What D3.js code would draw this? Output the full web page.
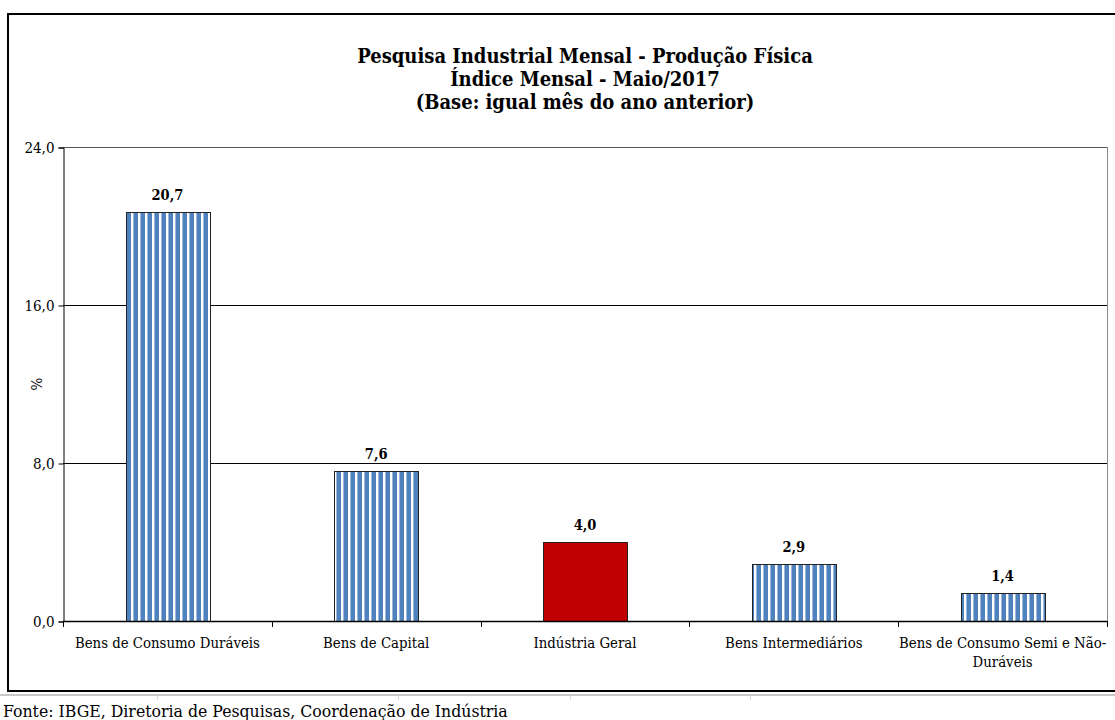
<!DOCTYPE html>
<html>
<head>
<meta charset="utf-8">
<script src="https://cdn.jsdelivr.net/npm/d3@7"></script>
<style>
  html, body { margin: 0; padding: 0; background: #fff; }
  svg { display: block; }
  text { font-family: "DejaVu Serif Condensed", "DejaVu Serif", serif; }
</style>
</head>
<body>
<svg id="chart" width="1115" height="720"></svg>
<script>
const titleLines = ["Pesquisa Industrial Mensal - Produção Física", "Índice Mensal - Maio/2017", "(Base: igual mês do ano anterior)"];
const categories = ["Bens de Consumo Duráveis", "Bens de Capital", "Indústria Geral", "Bens Intermediários", "Bens de Consumo Semi e Não-Duráveis"];
const categoryLines = [["Bens de Consumo Duráveis"], ["Bens de Capital"], ["Indústria Geral"], ["Bens Intermediários"], ["Bens de Consumo Semi e Não-", "Duráveis"]];
const values = [20.7, 7.6, 4.0, 2.9, 1.4];
const highlight = [false, false, true, false, false];
const yTicks = [0, 8, 16, 24];
const yLabel = "%";
const source = "Fonte: IBGE, Diretoria de Pesquisas, Coordenação de Indústria";

const fmt = v => v.toFixed(1).replace(".", ",");
const svg = d3.select("#chart");

// pattern
const defs = svg.append("defs");
const pat = defs.append("pattern").attr("id", "stripes").attr("patternUnits", "userSpaceOnUse")
  .attr("width", 7).attr("height", 10);
pat.append("rect").attr("width", 7).attr("height", 10).attr("fill", "#ffffff");
pat.append("rect").attr("x", 0.5).attr("width", 4.5).attr("height", 10).attr("fill", "#4f81bd");
pat.append("rect").attr("x", 0).attr("width", 1).attr("height", 10).attr("fill", "#9db8dd");

// spreadsheet remnants below the frame
svg.append("line").attr("x1", 0).attr("x2", 1115).attr("y1", 695).attr("y2", 695).attr("stroke", "#c8c8c8").attr("stroke-width", 2);
[157, 398, 570, 750].forEach(x => svg.append("line").attr("x1", x + 0.5).attr("x2", x + 0.5).attr("y1", 696).attr("y2", 700).attr("stroke", "#d8d8d8"));

// outer frame
svg.append("rect").attr("x", 8).attr("y", 14).attr("width", 1120).attr("height", 677)
  .attr("fill", "none").attr("stroke", "#000").attr("stroke-width", 2);

const m = { left: 63, right: 1107, top: 147, bottom: 621 };
const x = d3.scaleBand().domain(categories).range([m.left, m.right]).paddingInner(0.6).paddingOuter(0.3);
const xb = d3.scaleBand().domain(categories).range([m.left, m.right]);
const y = d3.scaleLinear().domain([0, 24]).range([m.bottom, m.top]);

// title
const t = svg.append("text").attr("text-anchor", "middle").attr("font-weight", "bold").attr("font-size", 20).attr("fill", "#000");
titleLines.forEach((l, i) => t.append("tspan").attr("x", 585).attr("y", 63 + i * 23).text(l));

// right plot border
svg.append("line").attr("x1", m.right + 0.5).attr("x2", m.right + 0.5).attr("y1", m.top).attr("y2", m.bottom).attr("stroke", "#888");

// gridlines
svg.append("g").selectAll("line").data(yTicks.filter(d => d > 0)).join("line")
  .attr("x1", m.left).attr("x2", m.right).attr("y1", d => Math.round(y(d)) + 0.5).attr("y2", d => Math.round(y(d)) + 0.5)
  .attr("stroke", d => d === 24 ? "#555" : "#000").attr("stroke-width", 1);

// y axis
const yAxis = svg.append("g").attr("transform", `translate(${m.left + 0.5},0.5)`)
  .call(d3.axisLeft(y).tickValues(yTicks).tickFormat(fmt).tickSize(5).tickPadding(4));
yAxis.select(".domain").attr("stroke", "#000");
yAxis.selectAll("text").attr("font-size", 15).attr("fill", "#000").style("font-family", "DejaVu Serif Condensed");

svg.append("text").attr("transform", `translate(42,${(m.top + m.bottom) / 2}) rotate(-90)`)
  .attr("text-anchor", "middle").attr("font-size", 15).text(yLabel);

// bars
svg.append("g").selectAll("rect").data(values).join("rect")
  .attr("x", (d, i) => Math.round(x(categories[i])) + 0.5).attr("width", Math.round(x.bandwidth()))
  .attr("y", d => Math.round(y(d)) + 0.5).attr("height", d => Math.round(y(0)) - Math.round(y(d)))
  .attr("fill", (d, i) => highlight[i] ? "#c00000" : "url(#stripes)")
  .attr("stroke", "#222").attr("stroke-width", 1);

// value labels
svg.append("g").selectAll("text").data(values).join("text")
  .attr("x", (d, i) => x(categories[i]) + x.bandwidth() / 2).attr("y", d => y(d) - 12)
  .attr("text-anchor", "middle").attr("font-weight", "bold").attr("font-size", 14.5).text(fmt);

// x axis
svg.append("line").attr("x1", m.left).attr("x2", m.right).attr("y1", m.bottom + 0.5).attr("y2", m.bottom + 0.5)
  .attr("stroke", "#000").attr("stroke-width", 1.5);
const bounds = categories.map(c => xb(c)).concat([m.right]);
svg.append("g").selectAll("line").data(bounds).join("line")
  .attr("x1", d => Math.round(d) + 0.5).attr("x2", d => Math.round(d) + 0.5).attr("y1", m.bottom).attr("y2", m.bottom + 6).attr("stroke", "#000");

svg.append("g").selectAll("text").data(categories).join("text")
  .attr("text-anchor", "middle").attr("font-size", 14.8)
  .each(function(c, i) {
    const el = d3.select(this);
    categoryLines[i].forEach((l, j) => el.append("tspan").attr("x", xb(c) + xb.bandwidth() / 2).attr("y", 648 + j * 19).text(l));
  });

// source
svg.append("text").attr("x", 3).attr("y", 717).attr("font-size", 17.5).text(source);
</script>
</body>
</html>
